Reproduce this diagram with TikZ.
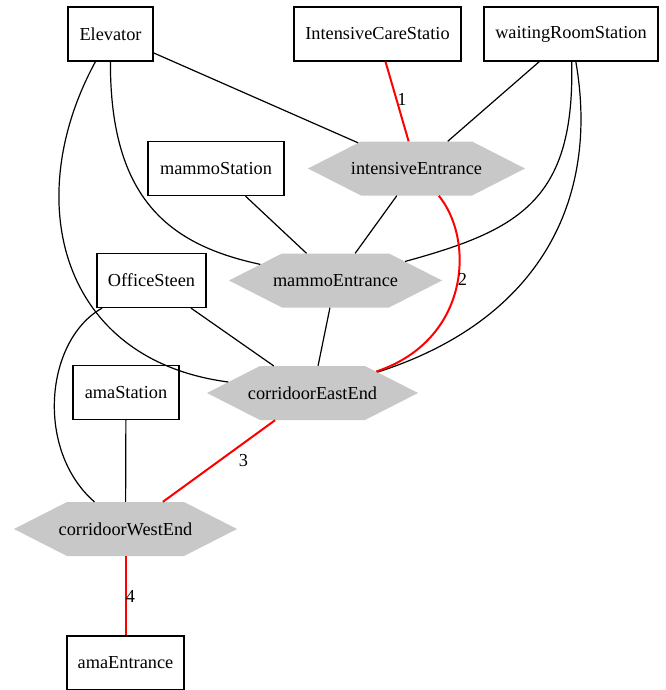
\documentclass[tikz,border=0pt]{standalone}
\usepackage{fontspec}
\setmainfont{Liberation Serif}
\usetikzlibrary{shapes.symbols}
\definecolor{hexgray}{RGB}{200,200,200}
\definecolor{edgered}{RGB}{255,0,0}
\newcommand{\hxt}[1]{\makebox[0pt]{#1}}
\begin{document}
\begin{tikzpicture}[x=1pt,y=-1pt,
  every node/.style={font=\fontsize{18.3}{22}\selectfont, inner sep=0pt},
  box/.style={draw=black, line width=1.2pt, rectangle, minimum height=54pt},
  hexa/.style={shape=signal, signal to=east and west, signal pointer angle=54, fill=hexgray, draw=none, minimum height=54pt},
  edge/.style={draw=black, line width=1.2pt},
  redge/.style={draw=edgered, line width=2pt},
  lbl/.style={font=\fontsize{18.3}{22}\selectfont}
]
\useasboundingbox (0,0) rectangle (665,690);
\fill[white] (0,0) rectangle (665,690);
% boxes
\node[box, minimum width=85pt] (elev) at (110.5,34) {Elevator};
\node[box, minimum width=167pt] (ics) at (377.5,34) {IntensiveCareStatio};
\node[box, minimum width=174pt] (wr) at (571,34) {waitingRoomStation};
\node[box, minimum width=136pt] (ms) at (216,168.5) {mammoStation};
\node[box, minimum width=109pt] (os) at (151.5,280.5) {OfficeSteen};
\node[box, minimum width=106pt] (as) at (126,392.5) {amaStation};
\node[box, minimum width=117pt] (ae) at (125.5,663) {amaEntrance};
% hexagons
\node[hexa, minimum width=217pt] (ie) at (416.5,168.5) {\hxt{intensiveEntrance}};
\node[hexa, minimum width=213pt] (me) at (335.5,280.5) {\hxt{mammoEntrance}};
\node[hexa, minimum width=211pt] (cee) at (312.5,393) {\hxt{corridoorEastEnd}};
\node[hexa, minimum width=223pt] (cwe) at (125.5,529) {\hxt{corridoorWestEnd}};
% edges
\draw[edge] (elev) -- (ie);
\draw[edge] (elev) .. controls (110,200) and (170,245) .. (me);
\draw[edge] (elev) .. controls (20,200) and (60,360) .. (cee);
\draw[redge] (ics) -- (ie);
\draw[edge] (wr) -- (ie);
\draw[edge] (wr) .. controls (575,200) and (520,230) .. (me);
\draw[edge] (wr) .. controls (600,200) and (540,320) .. (cee);
\draw[edge] (ms) -- (me);
\draw[edge] (ie) -- (me);
\draw[redge] (ie) .. controls (475,240) and (470,340) .. (cee);
\draw[edge] (me) -- (cee);
\draw[edge] (os) -- (cee);
\draw[edge] (os) .. controls (45,340) and (35,450) .. (cwe);
\draw[edge] (as) -- (cwe);
\draw[redge] (cee) -- (cwe);
\draw[redge] (cwe) -- (ae);
% labels
\node[lbl] (l1) at (402,99.5) {1};
\node[lbl] (l2) at (462.5,279.5) {2};
\node[lbl] (l3) at (243.5,460.5) {3};
\node[lbl] (l4) at (130.5,596.5) {4};
\end{tikzpicture}
\end{document}
